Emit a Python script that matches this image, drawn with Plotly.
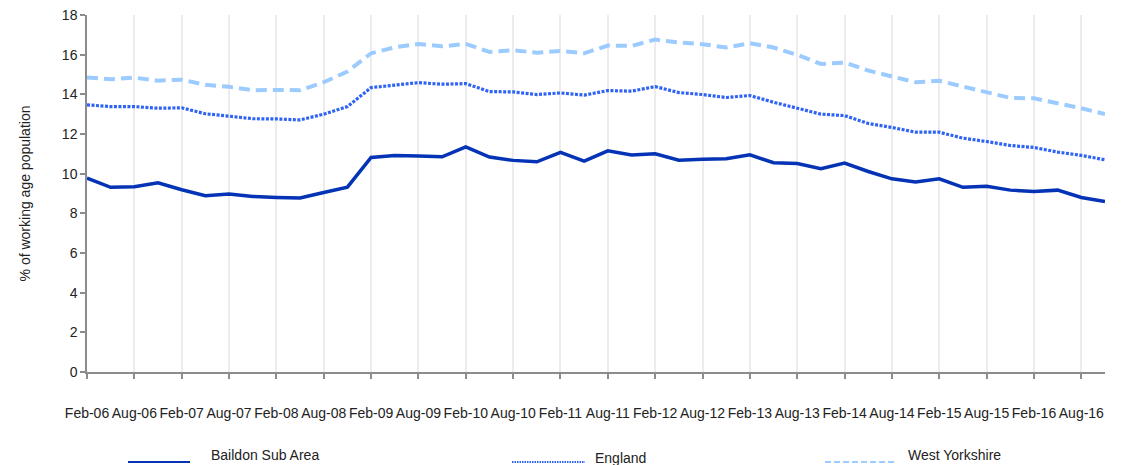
import plotly.graph_objects as go

quarters = [f"{m}-{y:02d}" for y in range(6, 17) for m in ["Feb", "May", "Aug", "Nov"]]
tick_labels = [q for q in quarters if q.startswith(("Feb", "Aug"))]

baildon = [9.78, 9.31, 9.34, 9.54, 9.19, 8.89, 8.97, 8.85, 8.80, 8.77, 9.05, 9.32,
           10.82, 10.92, 10.89, 10.85, 11.35, 10.84, 10.67, 10.60, 11.07, 10.63,
           11.15, 10.94, 11.00, 10.68, 10.73, 10.75, 10.95, 10.55, 10.51, 10.25,
           10.53, 10.11, 9.74, 9.58, 9.74, 9.31, 9.36, 9.17, 9.10, 9.17, 8.80, 8.60]
england = [13.47, 13.38, 13.38, 13.30, 13.32, 13.02, 12.90, 12.77, 12.76, 12.71, 13.00, 13.38,
           14.34, 14.46, 14.59, 14.51, 14.54, 14.14, 14.12, 13.99, 14.07, 13.96,
           14.19, 14.16, 14.39, 14.09, 13.99, 13.84, 13.94, 13.60, 13.30, 13.00,
           12.93, 12.53, 12.33, 12.09, 12.09, 11.79, 11.62, 11.42, 11.32, 11.09, 10.92, 10.70]
west_yorkshire = [14.85, 14.76, 14.84, 14.69, 14.74, 14.48, 14.38, 14.21, 14.22, 14.21, 14.61, 15.15,
                  16.07, 16.37, 16.54, 16.42, 16.54, 16.14, 16.22, 16.10, 16.19, 16.07,
                  16.46, 16.44, 16.76, 16.61, 16.53, 16.36, 16.58, 16.36, 15.99, 15.53,
                  15.60, 15.20, 14.90, 14.61, 14.68, 14.39, 14.09, 13.82, 13.80, 13.57, 13.30, 13.00]
y_ticks = list(range(0, 19, 2))

series_names = ["Baildon Sub Area", "England", "West Yorkshire"]
colors = ["#0433b5", "#2f63f5", "#9ccbff"]
dashes = ["solid", "3px,1.5px", "11px,6px"]
legend_dashes = ["solid", "1.5px,1px", "6px,3px"]
widths = [3.5, 3.2, 4]

x_idx = list(range(len(quarters)))
tick_idx = [i for i, q in enumerate(quarters) if q in tick_labels]

fig = go.Figure()
for name, vals, c, d, w in zip(series_names, [baildon, england, west_yorkshire], colors, dashes, widths):
    fig.add_trace(go.Scatter(x=x_idx, y=vals, mode="lines", name=name,
                             line=dict(color=c, dash=d, width=w), showlegend=False,
                             customdata=quarters,
                             hovertemplate="%{customdata}: %{y}<extra>" + name + "</extra>"))

# custom legend (paper coordinates)
legend_pos = [(0.0403, 0.1012, 0.1198), (0.4175, 0.4892, 0.497), (0.725, 0.7937, 0.8045)]
legend_y = [-0.2325, -0.24, -0.2325]
for (x0, x1, xt), name, c, d, ly in zip(legend_pos, series_names, colors, legend_dashes, legend_y):
    fig.add_shape(type="line", xref="paper", yref="paper", x0=x0, x1=x1,
                  y0=-0.252, y1=-0.252, line=dict(color=c, dash=d, width=2))
    fig.add_annotation(xref="paper", yref="paper", x=xt, y=ly, text=name,
                       showarrow=False, xanchor="left", yanchor="middle",
                       font=dict(size=14, color="#222222"))

# page body has an 8px margin, so the figure is sized to fit the window from (8, 8)
fig.update_layout(
    width=1120, height=457,
    margin=dict(l=79, r=23, t=7, b=93, autoexpand=False),
    plot_bgcolor="white", paper_bgcolor="white",
    font=dict(family="Liberation Sans, Arial, sans-serif", size=14, color="#222222"),
    showlegend=False,
)
fig.update_xaxes(range=[0, len(quarters) - 1], tickvals=tick_idx, ticktext=tick_labels,
                 showgrid=True, gridcolor="#ececec", gridwidth=1.5,
                 showline=True, linecolor="#8c8c8c", linewidth=1.5,
                 ticks="outside", ticklen=5, tickcolor="#8c8c8c", tickwidth=1.5,
                 tickangle=0, ticklabelstandoff=22, tickfont=dict(size=14),
                 ticklabeloverflow="allow",
                 zeroline=False, automargin=False)
fig.update_yaxes(range=[0, 18], tickvals=y_ticks, showgrid=False,
                 showline=True, linecolor="#8c8c8c", linewidth=1.5,
                 ticks="outside", ticklen=5, tickcolor="#8c8c8c", tickwidth=1.5,
                 ticklabeloverflow="allow",
                 title=dict(text="% of working age population", font=dict(size=14), standoff=28),
                 tickfont=dict(size=14), zeroline=False, automargin=False)

fig.write_html("out.html")
